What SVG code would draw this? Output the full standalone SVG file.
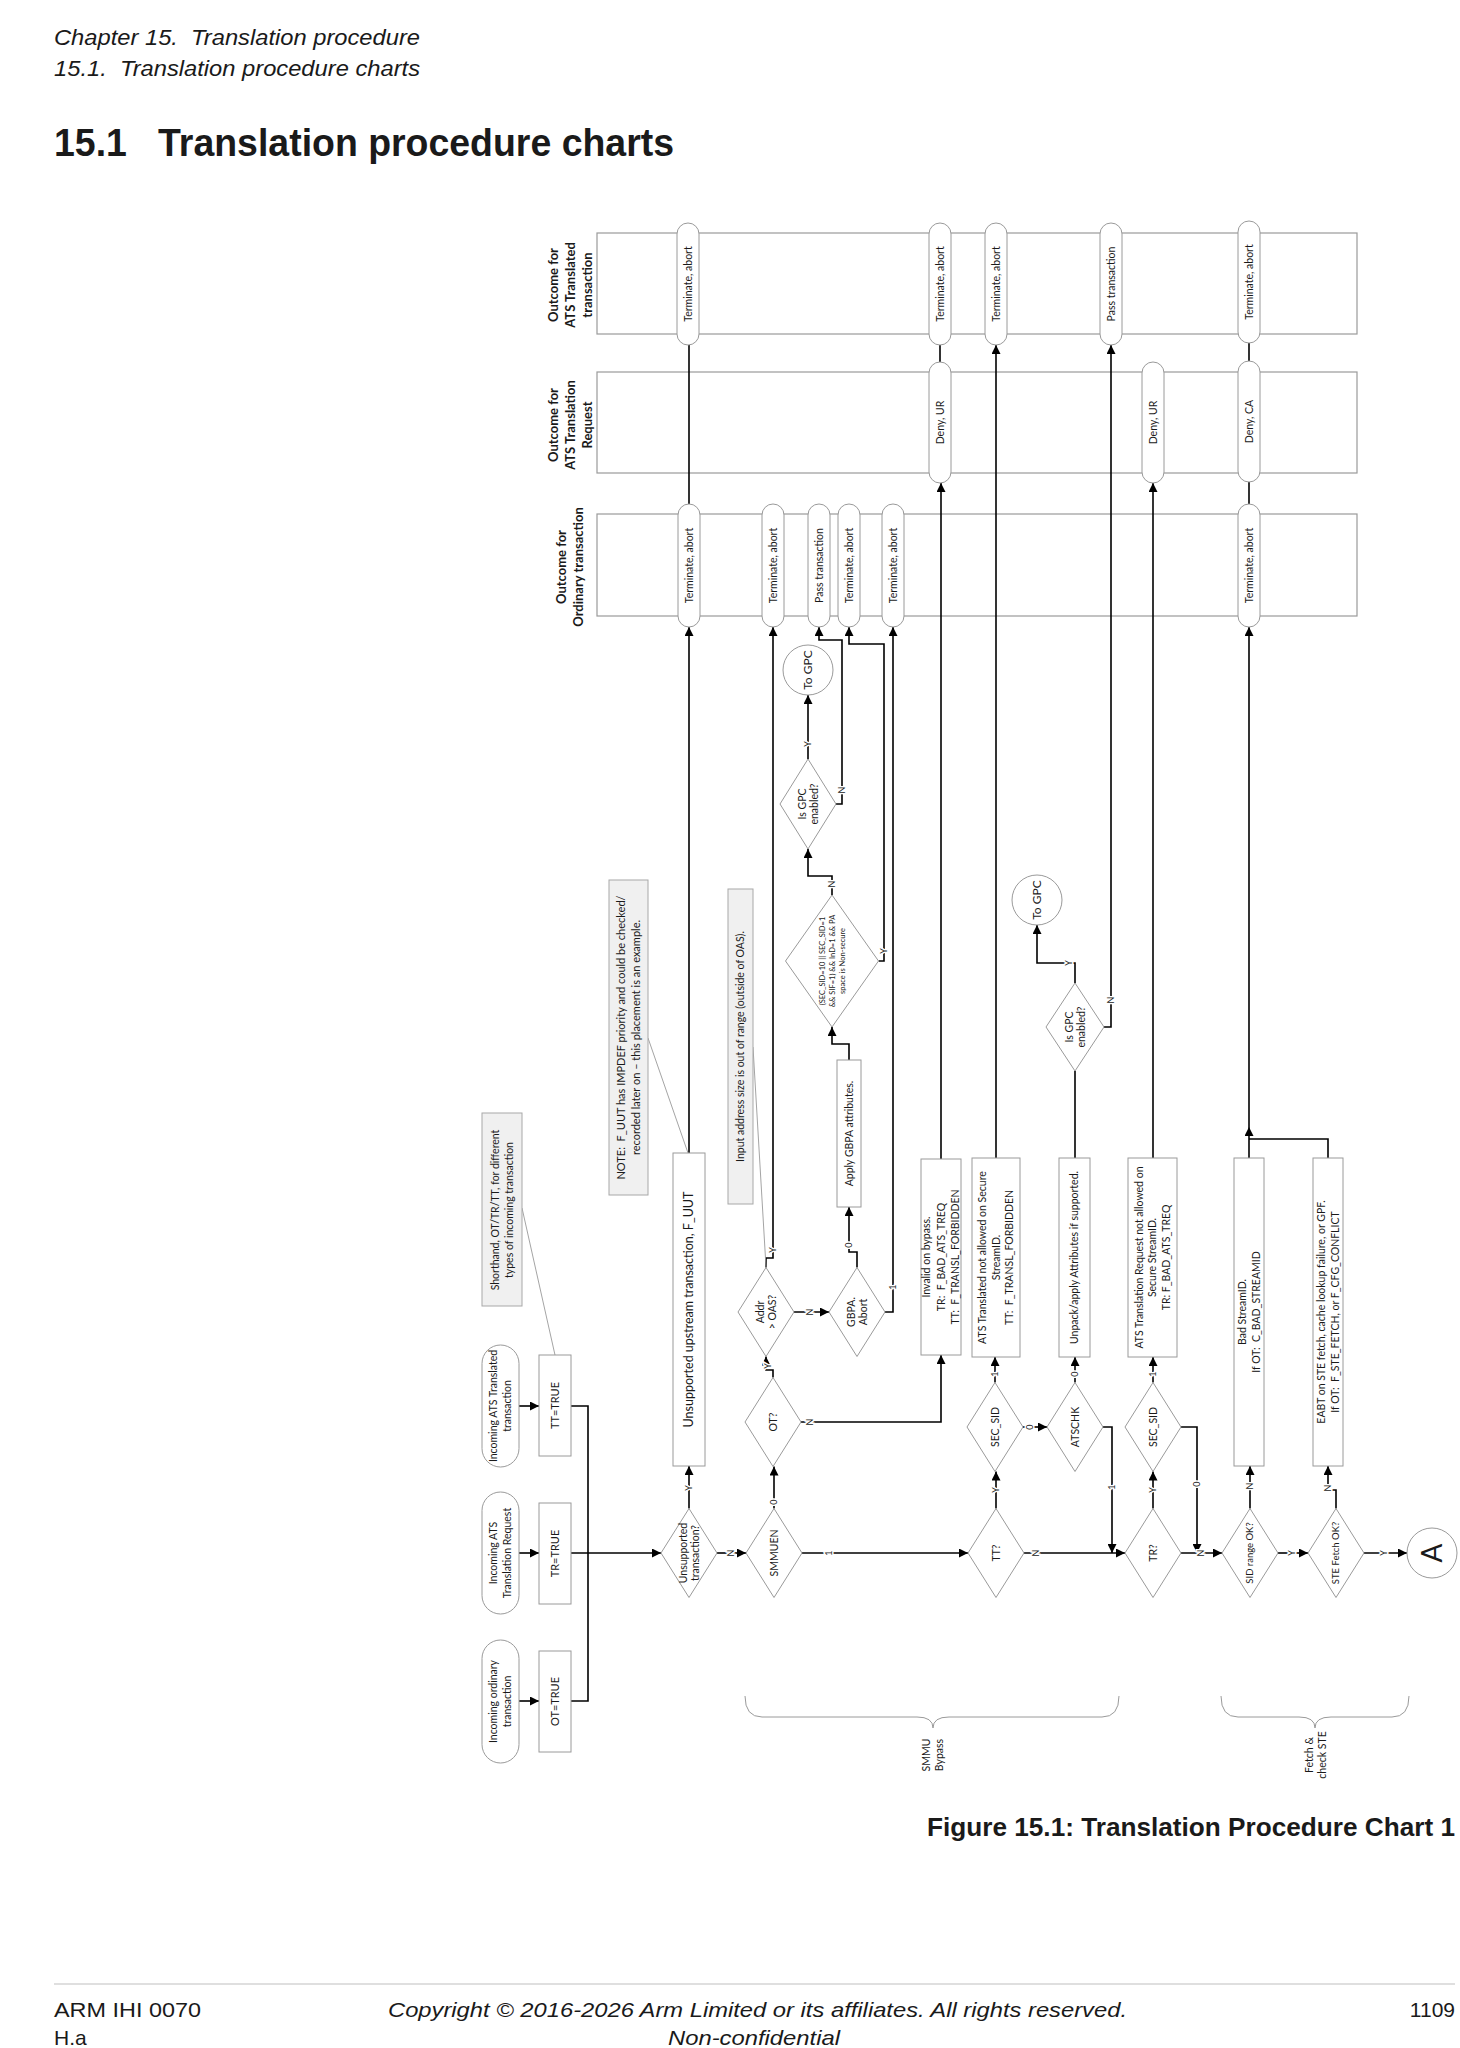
<svg xmlns="http://www.w3.org/2000/svg" width="1460" height="2048" viewBox="0 0 1460 2048">
<defs>
<marker id="ah" viewBox="0 0 10 10" refX="10" refY="5" markerUnits="userSpaceOnUse" markerWidth="10" markerHeight="9" orient="auto">
<path d="M0,0 L10,5 L0,10 z" fill="#000"/>
</marker>
<style>
.lane{fill:#fff;stroke:#9a9a9a;stroke-width:1.2}
.pill{fill:#fff;stroke:#9a9a9a;stroke-width:1}
.box{fill:#fff;stroke:#9a9a9a;stroke-width:1}
.note{fill:#f0f0f0;stroke:#a8a8a8;stroke-width:1}
.dia{fill:#fff;stroke:#9a9a9a;stroke-width:1}
.c{fill:none;stroke:#000;stroke-width:1.6}
.ca{fill:none;stroke:#000;stroke-width:1.6;marker-end:url(#ah)}
.callout{fill:none;stroke:#9a9a9a;stroke-width:0.9}
.brace{fill:none;stroke:#9a9a9a;stroke-width:1}
text{font-family:Lato,"Open Sans",sans-serif;fill:#1a1a1a;text-anchor:middle}
.t10{font-size:10.5px}
.t105{font-size:10.5px}
.t11{font-size:11px}
.td{font-size:10.5px}
.hd{font-size:13px;font-weight:bold}
.lb{font-size:9px;paint-order:stroke;stroke:#fff;stroke-width:3px}
.pg{font-family:"Liberation Sans",Arial,sans-serif;text-anchor:start}
</style>
</defs>

<!-- page header / footer -->
<g id="page">
<text class="pg" x="54" y="45" font-size="22" font-style="italic" textLength="366" lengthAdjust="spacingAndGlyphs" xml:space="preserve">Chapter 15.  Translation procedure</text>
<text class="pg" x="54" y="76" font-size="22" font-style="italic" textLength="366" lengthAdjust="spacingAndGlyphs" xml:space="preserve">15.1.  Translation procedure charts</text>
<text class="pg" x="54" y="156" font-size="39" font-weight="bold" textLength="620" lengthAdjust="spacingAndGlyphs" xml:space="preserve">15.1   Translation procedure charts</text>
<text class="pg" x="927" y="1836" font-size="25" font-weight="bold" textLength="528" lengthAdjust="spacingAndGlyphs">Figure 15.1: Translation Procedure Chart 1</text>
<line x1="54" y1="1984" x2="1455" y2="1984" stroke="#c0c0c0" stroke-width="1.2"/>
<text class="pg" x="54" y="2017" font-size="21" textLength="147" lengthAdjust="spacingAndGlyphs">ARM IHI 0070</text>
<text class="pg" x="388" y="2017" font-size="21" font-style="italic" textLength="739" lengthAdjust="spacingAndGlyphs">Copyright © 2016-2026 Arm Limited or its affiliates. All rights reserved.</text>
<text class="pg" x="1455" y="2017" font-size="21" style="text-anchor:end">1109</text>
<text class="pg" x="54" y="2045" font-size="21">H.a</text>
<text class="pg" x="668" y="2045" font-size="21" font-style="italic" textLength="172" lengthAdjust="spacingAndGlyphs">Non-confidential</text>
</g>

<!-- swimlanes -->
<g id="lanes">
<rect class="lane" x="597" y="233" width="760" height="101"/>
<rect class="lane" x="597" y="372" width="760" height="101"/>
<rect class="lane" x="597" y="514" width="760" height="102"/>
<text class="hd" transform="rotate(-90 570 285)"><tspan x="570" y="272.5">Outcome for</tspan><tspan x="570" y="289.5">ATS Translated</tspan><tspan x="570" y="306.5">transaction</tspan></text>
<text class="hd" transform="rotate(-90 570 425)"><tspan x="570" y="412.5">Outcome for</tspan><tspan x="570" y="429.5">ATS Translation</tspan><tspan x="570" y="446.5">Request</tspan></text>
<text class="hd" transform="rotate(-90 570 567)"><tspan x="570" y="563">Outcome for</tspan><tspan x="570" y="580">Ordinary transaction</tspan></text>
</g>

<!-- connectors -->
<g id="connectors">
<path class="ca" d="M519,1406 H539"/>
<path class="ca" d="M519,1553 H539"/>
<path class="ca" d="M519,1701 H539"/>
<path class="c" d="M571,1406 H588 V1701 H571"/>
<path class="ca" d="M571,1553 H661"/>
<path class="ca" d="M689,1508.5 V1466"/>
<path class="ca" d="M689,1153 V627"/>
<path class="c" d="M689,504 V345"/>
<path class="ca" d="M717,1553 H746"/>
<path class="ca" d="M774,1508.5 V1466.5"/>
<path class="ca" d="M802,1553 H968"/>
<path class="ca" d="M773,1377.5 V1370 H766 V1356.5"/>
<path class="ca" d="M801,1422 H941 V1355"/>
<path class="ca" d="M941,1159 V483"/>
<path class="c" d="M940,362 V345"/>
<path class="ca" d="M766,1267.5 V1258 H773 V627"/>
<path class="ca" d="M794,1312 H829"/>
<path class="ca" d="M857,1267.5 V1252 H849 V1207"/>
<path class="ca" d="M885,1312 H893 V627"/>
<path class="ca" d="M849,1060 V1044 H832 V1027"/>
<path class="ca" d="M832,895 V876 H808 V849"/>
<path class="ca" d="M878.5,961 H884 V644 H849 V627"/>
<path class="ca" d="M808,759 V695"/>
<path class="ca" d="M836,804 H842 V640 H819 V627"/>
<path class="ca" d="M996,1508.5 V1471.5"/>
<path class="ca" d="M1024,1553 H1125"/>
<path class="ca" d="M995,1382.5 V1357"/>
<path class="ca" d="M996,1158 V345"/>
<path class="ca" d="M1023,1427 H1047"/>
<path class="ca" d="M1075,1382.5 V1357"/>
<path class="ca" d="M1103,1427 H1112 V1553"/>
<path class="c" d="M1075,1158 V1071"/>
<path class="ca" d="M1075,983 V963 H1037 V925"/>
<path class="ca" d="M1104,1027 H1111 V345"/>
<path class="ca" d="M1153,1508.5 V1471.5"/>
<path class="ca" d="M1181,1553 H1222"/>
<path class="ca" d="M1153,1382.5 V1357"/>
<path class="ca" d="M1153,1158 V483"/>
<path class="ca" d="M1181,1427 H1197 V1553"/>
<path class="ca" d="M1250,1508.5 V1466"/>
<path class="ca" d="M1278,1553 H1308"/>
<path class="ca" d="M1249,1158 V1127"/>
<path class="ca" d="M1249,1127 V627"/>
<path class="c" d="M1328,1158 V1139 H1249"/>
<path class="c" d="M1249,504 V482"/>
<path class="c" d="M1249,361 V343"/>
<path class="ca" d="M1336,1508.5 V1490 H1328 V1466"/>
<path class="ca" d="M1364,1553 H1407"/>
<path class="callout" d="M522,1208 L555,1355"/>
<path class="callout" d="M648,1038 L688,1153"/>
<path class="callout" d="M753,1047 L766,1267"/>
<text class="lb" transform="rotate(-90 773 1250)" x="773" y="1253">Y</text>
<text class="lb" transform="rotate(-90 808 744)" x="808" y="747">Y</text>
<text class="lb" transform="rotate(-90 832 884)" x="832" y="887">N</text>
<text class="lb" transform="rotate(-90 842 790)" x="842" y="793">N</text>
<text class="lb" transform="rotate(-90 884 951)" x="884" y="954">Y</text>
<text class="lb" transform="rotate(-90 849 1245)" x="849" y="1248">0</text>
<text class="lb" transform="rotate(-90 893 1287)" x="893" y="1290">1</text>
<text class="lb" transform="rotate(-90 810 1312)" x="810" y="1315">N</text>
<text class="lb" transform="rotate(-90 768 1366)" x="768" y="1369">Y</text>
<text class="lb" transform="rotate(-90 810 1422)" x="810" y="1425">N</text>
<text class="lb" transform="rotate(-90 689 1488)" x="689" y="1491">Y</text>
<text class="lb" transform="rotate(-90 731 1553)" x="731" y="1556">N</text>
<text class="lb" transform="rotate(-90 774 1502)" x="774" y="1505">0</text>
<text class="lb" transform="rotate(-90 829 1553)" x="829" y="1556">1</text>
<text class="lb" transform="rotate(-90 996 1490)" x="996" y="1493">Y</text>
<text class="lb" transform="rotate(-90 1036 1553)" x="1036" y="1556">N</text>
<text class="lb" transform="rotate(-90 1112 1487)" x="1112" y="1490">1</text>
<text class="lb" transform="rotate(-90 1153 1490)" x="1153" y="1493">Y</text>
<text class="lb" transform="rotate(-90 1197 1484)" x="1197" y="1487">0</text>
<text class="lb" transform="rotate(-90 1201 1553)" x="1201" y="1556">N</text>
<text class="lb" transform="rotate(-90 1250 1486)" x="1250" y="1489">N</text>
<text class="lb" transform="rotate(-90 1292 1553)" x="1292" y="1556">Y</text>
<text class="lb" transform="rotate(-90 1328 1488)" x="1328" y="1491">N</text>
<text class="lb" transform="rotate(-90 1384 1553)" x="1384" y="1556">Y</text>
<text class="lb" transform="rotate(-90 995 1374)" x="995" y="1377">1</text>
<text class="lb" transform="rotate(-90 1030 1427)" x="1030" y="1430">0</text>
<text class="lb" transform="rotate(-90 1075 1374)" x="1075" y="1377">0</text>
<text class="lb" transform="rotate(-90 1153 1374)" x="1153" y="1377">1</text>
<text class="lb" transform="rotate(-90 1069 963)" x="1069" y="966">Y</text>
<text class="lb" transform="rotate(-90 1111 1000)" x="1111" y="1003">N</text>
</g>

<!-- outcome pills -->
<g id="out-tt-1"><rect class="pill" x="677" y="223" width="22" height="122" rx="11"/><text class="t10" transform="rotate(-90 688 284)" x="688" y="287.7">Terminate, abort</text></g>
<g id="out-tt-2"><rect class="pill" x="929" y="223" width="22" height="122" rx="11"/><text class="t10" transform="rotate(-90 940 284)" x="940" y="287.7">Terminate, abort</text></g>
<g id="out-tt-3"><rect class="pill" x="985" y="223" width="22" height="122" rx="11"/><text class="t10" transform="rotate(-90 996 284)" x="996" y="287.7">Terminate, abort</text></g>
<g id="out-tt-4"><rect class="pill" x="1100" y="223" width="22" height="122" rx="11"/><text class="t10" transform="rotate(-90 1111 284)" x="1111" y="287.7">Pass transaction</text></g>
<g id="out-tt-5"><rect class="pill" x="1238" y="221" width="22" height="122" rx="11"/><text class="t10" transform="rotate(-90 1249 282)" x="1249" y="285.7">Terminate, abort</text></g>
<g id="out-tr-1"><rect class="pill" x="929" y="362" width="22" height="121" rx="11"/><text class="t10" transform="rotate(-90 940 422.5)" x="940" y="426.2">Deny, UR</text></g>
<g id="out-tr-2"><rect class="pill" x="1142" y="362" width="22" height="121" rx="11"/><text class="t10" transform="rotate(-90 1153 422.5)" x="1153" y="426.2">Deny, UR</text></g>
<g id="out-tr-3"><rect class="pill" x="1238" y="361" width="22" height="121" rx="11"/><text class="t10" transform="rotate(-90 1249 421.5)" x="1249" y="425.2">Deny, CA</text></g>
<g id="out-ot-1"><rect class="pill" x="678" y="504" width="22" height="123" rx="11"/><text class="t10" transform="rotate(-90 689 565.5)" x="689" y="569.2">Terminate, abort</text></g>
<g id="out-ot-2"><rect class="pill" x="762" y="504" width="22" height="123" rx="11"/><text class="t10" transform="rotate(-90 773 565.5)" x="773" y="569.2">Terminate, abort</text></g>
<g id="out-ot-3"><rect class="pill" x="808" y="504" width="22" height="123" rx="11"/><text class="t10" transform="rotate(-90 819 565.5)" x="819" y="569.2">Pass transaction</text></g>
<g id="out-ot-4"><rect class="pill" x="838" y="504" width="22" height="123" rx="11"/><text class="t10" transform="rotate(-90 849 565.5)" x="849" y="569.2">Terminate, abort</text></g>
<g id="out-ot-5"><rect class="pill" x="882" y="504" width="22" height="123" rx="11"/><text class="t10" transform="rotate(-90 893 565.5)" x="893" y="569.2">Terminate, abort</text></g>
<g id="out-ot-6"><rect class="pill" x="1238" y="504" width="22" height="123" rx="11"/><text class="t10" transform="rotate(-90 1249 565.5)" x="1249" y="569.2">Terminate, abort</text></g>

<!-- inputs -->
<g id="in-tt"><rect class="pill" x="482" y="1345" width="37" height="122" rx="18.5"/><text class="t105" transform="rotate(-90 500.5 1406)"><tspan x="500.5" y="1402.7">Incoming ATS Translated</tspan><tspan x="500.5" y="1416.7">transaction</tspan></text></g>
<g id="in-tr"><rect class="pill" x="482" y="1492" width="37" height="122" rx="18.5"/><text class="t105" transform="rotate(-90 500.5 1553)"><tspan x="500.5" y="1549.7">Incoming ATS</tspan><tspan x="500.5" y="1563.7">Translation Request</tspan></text></g>
<g id="in-ot"><rect class="pill" x="482" y="1640" width="37" height="123" rx="18.5"/><text class="t105" transform="rotate(-90 500.5 1701.5)"><tspan x="500.5" y="1698.2">Incoming ordinary</tspan><tspan x="500.5" y="1712.2">transaction</tspan></text></g>
<g id="tt-true"><rect class="box" x="539" y="1355" width="32" height="101"/><text class="t11" transform="rotate(-90 555 1405.5)" x="555" y="1409.3">TT=TRUE</text></g>
<g id="tr-true"><rect class="box" x="539" y="1503" width="32" height="101"/><text class="t11" transform="rotate(-90 555 1553.5)" x="555" y="1557.3">TR=TRUE</text></g>
<g id="ot-true"><rect class="box" x="539" y="1651" width="32" height="101"/><text class="t11" transform="rotate(-90 555 1701.5)" x="555" y="1705.3">OT=TRUE</text></g>

<!-- notes -->
<g id="note-shorthand"><rect class="note" x="482" y="1113" width="40" height="193"/><text class="t105" transform="rotate(-90 502 1210)"><tspan x="502" y="1206.7">Shorthand, OT/TR/TT, for different</tspan><tspan x="502" y="1220.7">types of incoming transaction</tspan></text></g>
<g id="note-fuut"><rect class="note" x="609" y="880" width="39" height="315"/><text class="t11" transform="rotate(-90 628.5 1037.5)" xml:space="preserve"><tspan x="628.5" y="1033.8">NOTE:  F_UUT has IMPDEF priority and could be checked/</tspan><tspan x="628.5" y="1048.8">recorded later on – this placement is an example.</tspan></text></g>
<g id="note-oas"><rect class="note" x="728" y="889" width="25" height="315"/><text class="t105" transform="rotate(-90 740.5 1046.5)" x="740.5" y="1050.2">Input address size is out of range (outside of OAS).</text></g>

<!-- process boxes -->
<g id="box-fuut"><rect class="box" x="673" y="1153" width="32" height="313"/><text transform="rotate(-90 689 1309.5)" x="689" y="1313.9" font-size="12.5">Unsupported upstream transaction, F_UUT</text></g>
<g id="box-gbpa"><rect class="box" x="837" y="1060" width="24" height="147"/><text class="t105" transform="rotate(-90 849 1133.5)" x="849" y="1137.2">Apply GBPA attributes.</text></g>
<g id="box-invalid"><rect class="box" x="921" y="1159" width="40" height="196"/><text class="t105" transform="rotate(-90 941 1257)" xml:space="preserve"><tspan x="941" y="1246.2">Invalid on bypass.</tspan><tspan x="941" y="1260.7">TR:  F_BAD_ATS_TREQ</tspan><tspan x="941" y="1275.2">TT:  F_TRANSL_FORBIDDEN</tspan></text></g>
<g id="box-tt-secure"><rect class="box" x="972" y="1158" width="48" height="199"/><text class="t105" transform="rotate(-90 996 1257.5)" xml:space="preserve"><tspan x="996" y="1247.7">ATS Translated not allowed on Secure</tspan><tspan x="996" y="1261.2">StreamID.</tspan><tspan x="996" y="1274.7">TT:  F_TRANSL_FORBIDDEN</tspan></text></g>
<g id="box-unpack"><rect class="box" x="1059" y="1158" width="31" height="199"/><text class="t105" transform="rotate(-90 1074.5 1257.5)" x="1074.5" y="1261.2">Unpack/apply Attributes if supported.</text></g>
<g id="box-tr-secure"><rect class="box" x="1128" y="1158" width="49" height="199"/><text class="t105" transform="rotate(-90 1152.5 1257.5)"><tspan x="1152.5" y="1247.7">ATS Translation Request not allowed on</tspan><tspan x="1152.5" y="1261.2">Secure StreamID.</tspan><tspan x="1152.5" y="1274.7">TR: F_BAD_ATS_TREQ</tspan></text></g>
<g id="box-badsid"><rect class="box" x="1234" y="1158" width="30" height="308"/><text class="t105" transform="rotate(-90 1249 1312)" xml:space="preserve"><tspan x="1249" y="1308.7">Bad StreamID.</tspan><tspan x="1249" y="1322.7">If OT:  C_BAD_STREAMID</tspan></text></g>
<g id="box-eabt"><rect class="box" x="1313" y="1158" width="30" height="308"/><text class="t105" transform="rotate(-90 1328 1312)" xml:space="preserve"><tspan x="1328" y="1308.7">EABT on STE fetch, cache lookup failure, or GPF.</tspan><tspan x="1328" y="1322.7">If OT:  F_STE_FETCH, or F_CFG_CONFLICT</tspan></text></g>

<!-- decisions -->
<g id="d-unsupported"><polygon class="dia" points="689,1508.5 717,1553 689,1597.5 661,1553"/><text class="td" transform="rotate(-90 689 1553)"><tspan x="689" y="1550.5">Unsupported</tspan><tspan x="689" y="1563">transaction?</tspan></text></g>
<g id="d-smmuen"><polygon class="dia" points="774,1508.5 802,1553 774,1597.5 746,1553"/><text class="td" transform="rotate(-90 774 1553)" x="774" y="1556.7">SMMUEN</text></g>
<g id="d-ot"><polygon class="dia" points="773,1377.5 801,1422 773,1466.5 745,1422"/><text class="td" transform="rotate(-90 773 1422)" x="773" y="1425.7">OT?</text></g>
<g id="d-addr"><polygon class="dia" points="766,1267.5 794,1312 766,1356.5 738,1312"/><text class="td" transform="rotate(-90 766 1312)"><tspan x="766" y="1309.5">Addr</tspan><tspan x="766" y="1322">&gt; OAS?</tspan></text></g>
<g id="d-gbpa"><polygon class="dia" points="857,1267.5 885,1312 857,1356.5 829,1312"/><text class="td" transform="rotate(-90 857 1312)"><tspan x="857" y="1309.5">GBPA.</tspan><tspan x="857" y="1322">Abort</tspan></text></g>
<g id="d-secure-pa"><polygon class="dia" points="832,895 878.5,961 832,1027 785.5,961"/><text font-size="7.5" transform="rotate(-90 832 961)"><tspan x="832" y="953.6">(SEC_SID=10 || SEC_SID=1</tspan><tspan x="832" y="963.6">&amp;&amp; SIF=1) &amp;&amp; InD=1 &amp;&amp; PA</tspan><tspan x="832" y="973.6">space is Non-secure</tspan></text></g>
<g id="d-gpc1"><polygon class="dia" points="808,759 836,804 808,849 780,804"/><text class="td" transform="rotate(-90 808 804)"><tspan x="808" y="801.5">Is GPC</tspan><tspan x="808" y="814">enabled?</tspan></text></g>
<g id="d-gpc2"><polygon class="dia" points="1075,983 1104,1027 1075,1071 1046,1027"/><text class="td" transform="rotate(-90 1075 1027)"><tspan x="1075" y="1024.5">Is GPC</tspan><tspan x="1075" y="1037">enabled?</tspan></text></g>
<g id="d-tt"><polygon class="dia" points="996,1508.5 1024,1553 996,1597.5 968,1553"/><text class="td" transform="rotate(-90 996 1553)" x="996" y="1556.7">TT?</text></g>
<g id="d-secsid1"><polygon class="dia" points="995,1382.5 1023,1427 995,1471.5 967,1427"/><text class="td" transform="rotate(-90 995 1427)" x="995" y="1430.7">SEC_SID</text></g>
<g id="d-atschk"><polygon class="dia" points="1075,1382.5 1103,1427 1075,1471.5 1047,1427"/><text class="td" transform="rotate(-90 1075 1427)" x="1075" y="1430.7">ATSCHK</text></g>
<g id="d-tr"><polygon class="dia" points="1153,1508.5 1181,1553 1153,1597.5 1125,1553"/><text class="td" transform="rotate(-90 1153 1553)" x="1153" y="1556.7">TR?</text></g>
<g id="d-secsid2"><polygon class="dia" points="1153,1382.5 1181,1427 1153,1471.5 1125,1427"/><text class="td" transform="rotate(-90 1153 1427)" x="1153" y="1430.7">SEC_SID</text></g>
<g id="d-sidrange"><polygon class="dia" points="1250,1508.5 1278,1553 1250,1597.5 1222,1553"/><text font-size="9.5" transform="rotate(-90 1250 1553)" x="1250" y="1556.3">SID range OK?</text></g>
<g id="d-ste"><polygon class="dia" points="1336,1508.5 1364,1553 1336,1597.5 1308,1553"/><text font-size="9.5" transform="rotate(-90 1336 1553)" x="1336" y="1556.3">STE Fetch OK?</text></g>

<!-- terminators -->
<g id="to-gpc-1"><circle class="dia" cx="808" cy="670" r="25"/><text font-size="12" transform="rotate(-90 808 670)" x="808" y="674.2">To GPC</text></g>
<g id="to-gpc-2"><circle class="dia" cx="1037" cy="900" r="25"/><text font-size="12" transform="rotate(-90 1037 900)" x="1037" y="904.2">To GPC</text></g>
<g id="to-a"><circle class="dia" cx="1432" cy="1553" r="25"/><text font-size="28" transform="rotate(-90 1432 1553)" x="1432" y="1563">A</text></g>

<!-- braces -->
<g id="brace-bypass">
<path class="brace" d="M745,1696 Q745,1717 762,1717 H917 Q933,1717 933,1728 Q933,1717 949,1717 H1102 Q1119,1717 1119,1696"/>
<text class="t10" transform="rotate(-90 933 1755)"><tspan x="933" y="1752">SMMU</tspan><tspan x="933" y="1765">Bypass</tspan></text>
</g>
<g id="brace-fetch">
<path class="brace" d="M1221,1696 Q1221,1717 1238,1717 H1299 Q1315,1717 1315,1728 Q1315,1717 1331,1717 H1392 Q1409,1717 1409,1696"/>
<text class="t10" transform="rotate(-90 1316 1755)"><tspan x="1316" y="1752">Fetch &amp;</tspan><tspan x="1316" y="1765">check STE</tspan></text>
</g>
</svg>
